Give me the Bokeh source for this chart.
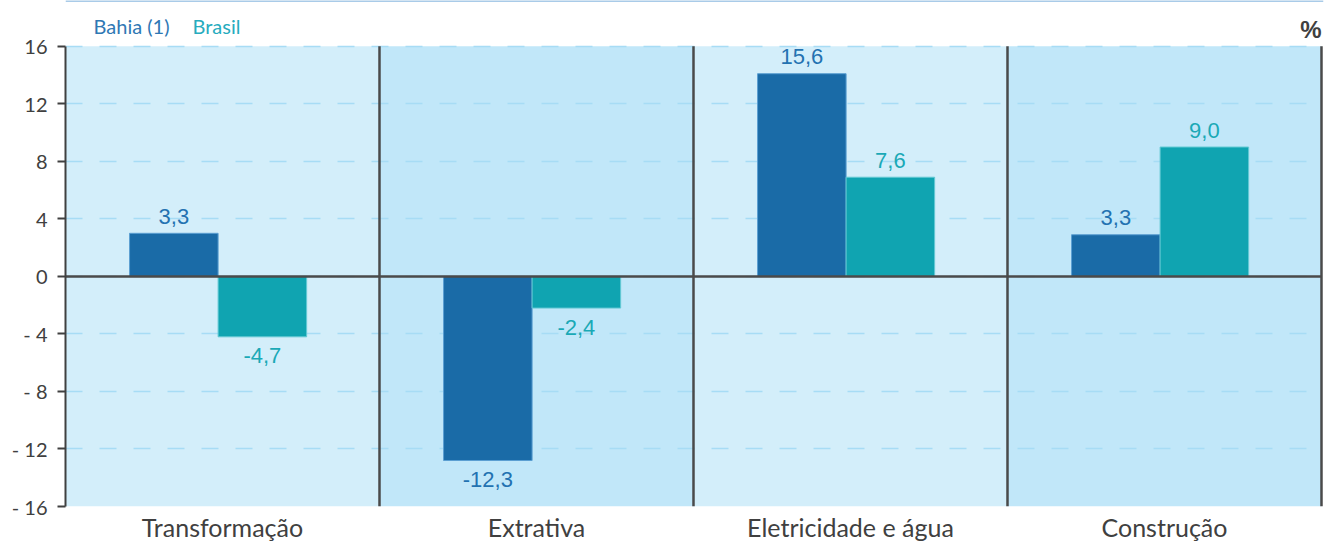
from bokeh.plotting import figure
from bokeh.models import ColumnDataSource, Range1d, FixedTicker, Span
from bokeh.core.properties import value
from bokeh.embed import file_html
from bokeh.resources import INLINE

# ---- data ----
categories = ["Transformação", "Extrativa", "Eletricidade e água", "Construção"]
series_names = ["Bahia (1)", "Brasil"]
# bar lengths as drawn
bahia_bar = [3.0, -12.8, 14.1, 2.9]
brasil_bar = [-4.2, -2.2, 6.9, 9.0]
# values printed on the bars
bahia_label = [3.3, -12.3, 15.6, 3.3]
brasil_label = [-4.7, -2.4, 7.6, 9.0]
y_ticks = [-16, -12, -8, -4, 0, 4, 8, 12, 16]
unit_label = "%"

# ---- styles ----
BAHIA = "#1A6BA7"
BRASIL = "#10A4B1"
BAHIA_TXT = "#2372B1"
BRASIL_TXT = "#1AA9B6"
DARK = "#404040"
LINE = "#4A4A4A"
band_colors = ["#D3EEFA", "#C1E7F9", "#D3EEFA", "#C1E7F9"]
OFF_BAHIA = -0.155
OFF_BRASIL = 0.127
BAR_W = 0.282

n = len(categories)
ymin, ymax = y_ticks[0], y_ticks[-1]
ytop = 19.19
centers = [i + 0.5 for i in range(n)]


def fmt(v):
    return f"{v:.1f}".replace(".", ",")


def offsets(vals):
    return [-17 if v >= 0 else 19 for v in vals]


src = ColumnDataSource(dict(
    xc=centers,
    xb=[c + OFF_BAHIA for c in centers],
    xr=[c + OFF_BRASIL for c in centers],
    bahia=bahia_bar,
    brasil=brasil_bar,
    bahia_txt=[fmt(v) for v in bahia_label],
    brasil_txt=[fmt(v) for v in brasil_label],
    bahia_off=offsets(bahia_bar),
    brasil_off=offsets(brasil_bar),
    band=band_colors,
))

# frame: x 0..4 spans 314 px per category; y 14.406 px per unit
p = figure(width=1324, height=544,
           x_range=Range1d(0, n + 0.0064),
           y_range=Range1d(ymin, ytop),
           output_backend="svg", toolbar_location=None,
           min_border_left=65, min_border_right=1,
           min_border_top=0, min_border_bottom=37)
p.outline_line_color = None
p.border_fill_color = "white"
p.background_fill_color = "white"

# thin rule along the top edge
p.add_layout(Span(location=ytop, dimension="width", line_color="#A9CBE8", line_width=3))

# background bands
bands = p.vbar(x="xc", top=ymax, bottom=ymin, width=1.0, source=src,
               fill_color="band", line_color=None)
bands.level = "image"

# bars
p.vbar(x="xb", top="bahia", bottom=0, width=BAR_W, source=src,
       fill_color=BAHIA, line_color="#5C9FD2", line_width=1)
p.vbar(x="xr", top="brasil", bottom=0, width=BAR_W, source=src,
       fill_color=BRASIL, line_color="#63C9D4", line_width=1)

# value labels
p.text(x="xb", y="bahia", text="bahia_txt", y_offset="bahia_off", source=src,
       text_align="center", text_baseline="alphabetic",
       text_font=value("Liberation Sans"), text_font_size="22px", text_color=BAHIA_TXT)
p.text(x="xr", y="brasil", text="brasil_txt", y_offset="brasil_off", source=src,
       text_align="center", text_baseline="alphabetic",
       text_font=value("Liberation Sans"), text_font_size="22px", text_color=BRASIL_TXT)

# zero line and category separators
p.segment(x0=[0], y0=[0], x1=[n], y1=[0], line_color=LINE, line_width=2.5)
p.segment(x0=list(range(1, n + 1)), y0=[ymin] * n, x1=list(range(1, n + 1)), y1=[ymax] * n,
          line_color=LINE, line_width=2.5)

# axes
p.xaxis.ticker = FixedTicker(ticks=centers)
p.xaxis.major_label_overrides = {c: lab for c, lab in zip(centers, categories)}
p.xaxis.axis_line_color = None
p.xaxis.major_tick_line_color = None
p.xaxis.minor_tick_line_color = None
p.xaxis.major_tick_out = 0
p.xaxis.major_tick_in = 0
p.xaxis.major_label_text_font = "Lato"
p.xaxis.major_label_text_font_size = "25px"
p.xaxis.major_label_text_color = DARK
p.xaxis.major_label_standoff = 5
p.xgrid.grid_line_color = None

p.yaxis.ticker = FixedTicker(ticks=y_ticks)
p.yaxis.bounds = (ymin, ymax)
p.yaxis.major_label_overrides = {t: (f"- {abs(t)}" if t < 0 else str(t)) for t in y_ticks}
p.yaxis.major_label_text_font = "Lato"
p.yaxis.major_label_text_font_size = "20px"
p.yaxis.major_label_text_color = DARK
p.yaxis.axis_line_color = DARK
p.yaxis.axis_line_width = 2
p.yaxis.major_tick_line_color = DARK
p.yaxis.major_tick_line_width = 2
p.yaxis.major_tick_out = 8
p.yaxis.major_tick_in = 0
p.yaxis.minor_tick_line_color = None
p.yaxis.major_label_standoff = 10

p.ygrid.grid_line_color = "#A7DCF5"
p.ygrid.grid_line_dash = "17 17"
p.ygrid.grid_line_width = 1.5

# legend texts and unit (inside the frame, above the bands)
leg = ColumnDataSource(dict(x=[0.0892, 0.4045], y=[17.43, 17.43], t=series_names,
                            c=["#2F78B4", "#27ABBE"]))
p.text(x="x", y="y", text="t", text_color="c", source=leg, text_font=value("Lato"),
       text_font_size="20px", text_baseline="alphabetic", text_align="left")
p.text(x=[n], y=[17.18], text=[unit_label], text_font=value("Liberation Sans"),
       text_font_style="bold", text_font_size="24px", text_color=DARK,
       text_align="right", text_baseline="alphabetic")

open("out.html", "w").write(file_html(p, INLINE))
